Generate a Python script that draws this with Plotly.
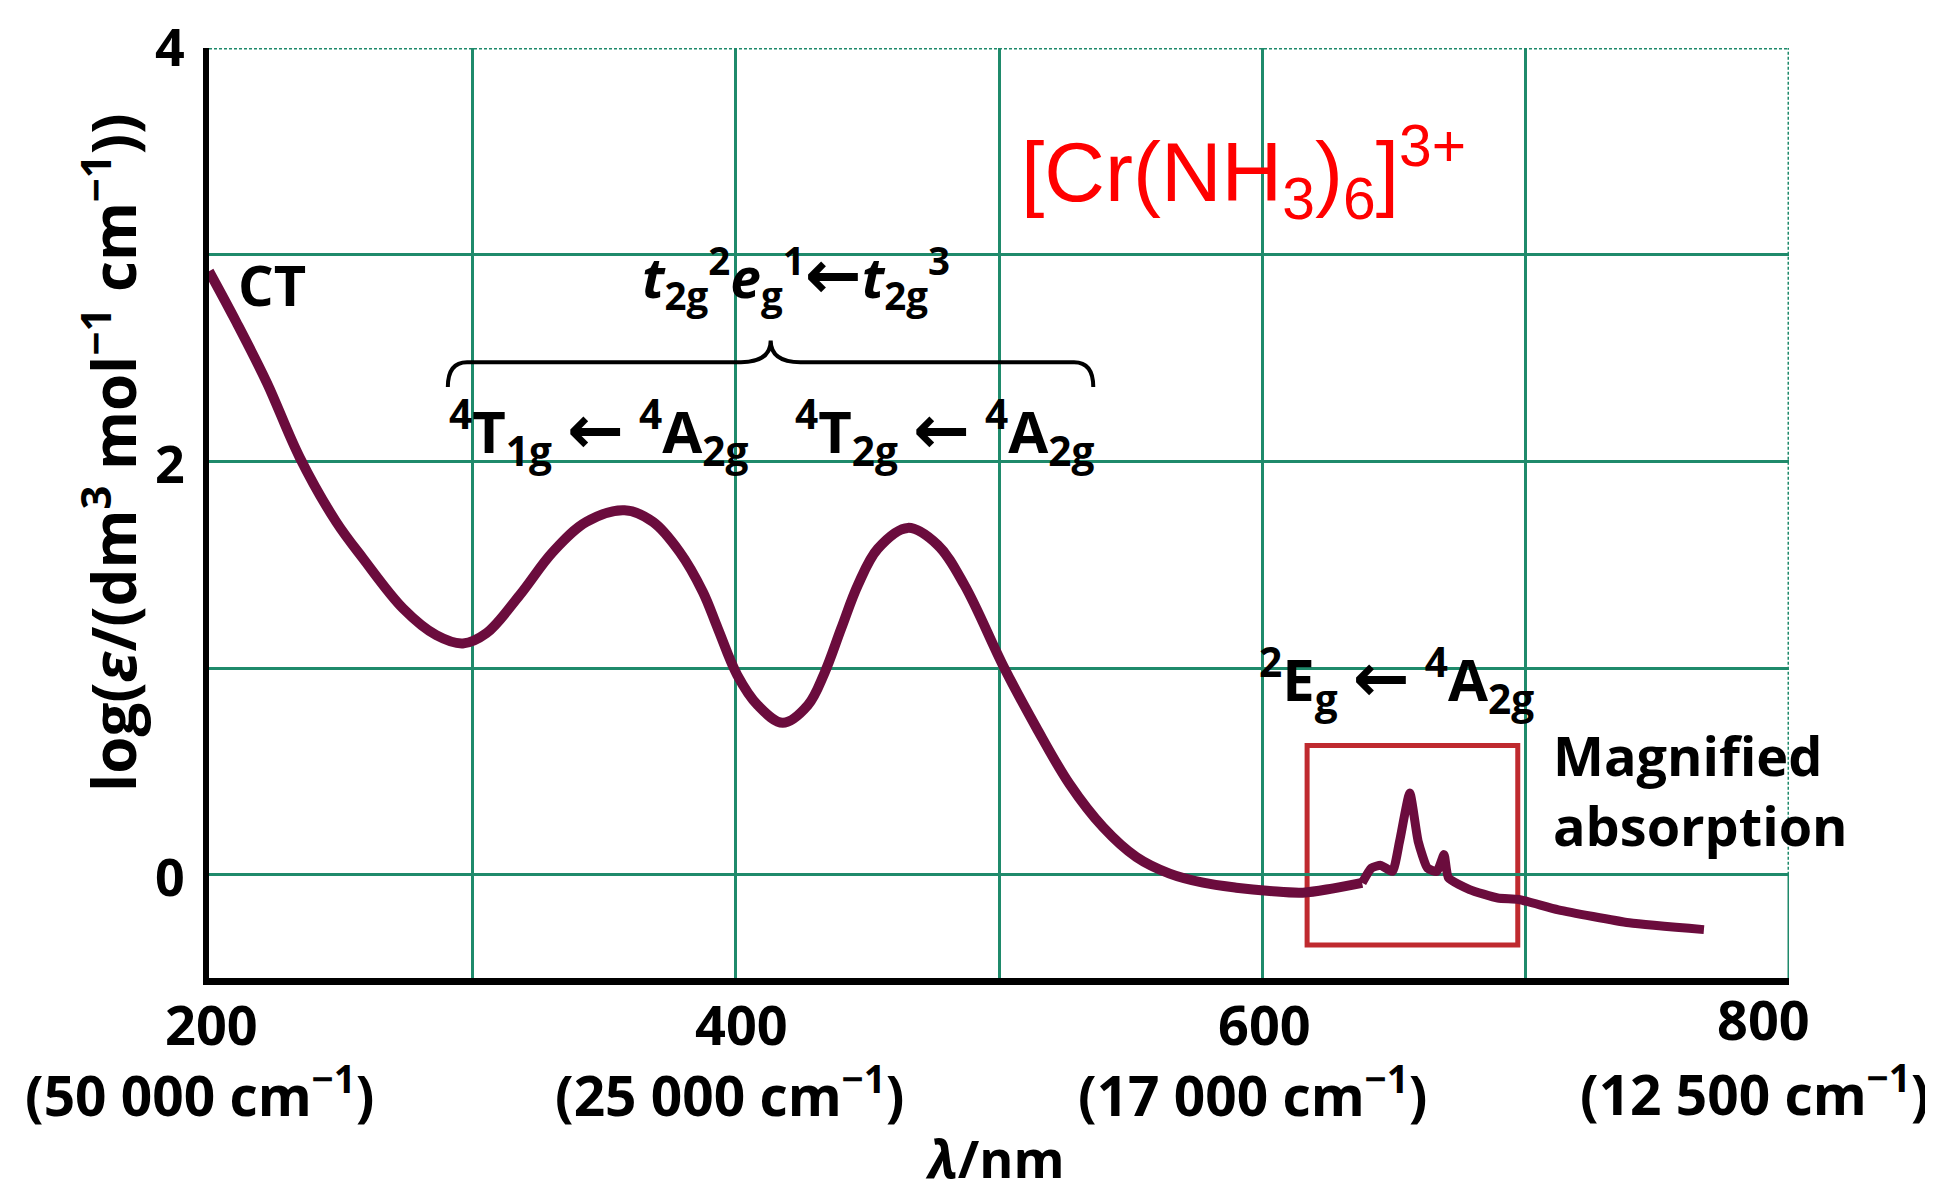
import plotly.graph_objects as go

# ---------------- data ----------------
# main absorption envelope: wavelength / nm and log(epsilon)
wl_main = [200, 210.4, 222, 234.4, 248.3, 258.5, 273.7, 286.3, 296.4, 305.3,
           318, 330.6, 343.3, 357.8, 368.6, 378.7, 387.5, 393.2, 400.6, 408.4,
           417.9, 427.4, 433.7, 440.1, 446.4, 454, 465.4, 476.8, 486.9, 502,
           514.2, 526.8, 539.5, 552.2, 564.8, 577.5, 590.1, 602.8, 615.4,
           627, 637.9]
loge_main = [2.92, 2.673, 2.38, 2.02, 1.707, 1.53, 1.288, 1.159, 1.119,
             1.168, 1.353, 1.562, 1.707, 1.763, 1.707, 1.562, 1.369, 1.192,
             0.966, 0.82, 0.735, 0.82, 0.975, 1.192, 1.401, 1.578, 1.678,
             1.594, 1.401, 1.0, 0.711, 0.438, 0.230, 0.085, 0.005, -0.039,
             -0.063, -0.079, -0.087, -0.066, -0.04]
# magnified spin-forbidden region and tail
wl_mag = [637.9, 641.4, 645, 649.4, 652.1, 656, 659.2, 662.7, 666.3, 669,
          670.7, 678.7, 689.4, 697.4, 712.4, 739.3, 767.7]
loge_mag = [-0.04, 0.032, 0.045, 0.016, 0.16, 0.395, 0.16, 0.032, 0.016,
            0.097, -0.016, -0.072, -0.113, -0.12, -0.17, -0.233, -0.266]

# axis tick labels
tick_nm = [200, 400, 600, 800]
tick_wavenumber = ["50 000", "25 000", "17 000", "12 500"]
ytick_vals = [0, 2, 4]
xgrid_vals = [300, 400, 500, 600, 700]
ygrid_vals = [0, 1, 2, 3]

# magnified-absorption box (nm, log eps)
box_nm = [617, 697]
box_loge = [-0.34, 0.625]

# ---------------- styles ----------------
CURVE = "#6b0c3d"
GRID = "#1f8a6b"
BOXRED = "#bf2a2f"
FONT = "Open Sans"
ARROW = '<span style="font-family:\'DejaVu Sans\';font-size:68px">\u2190</span>'

fig = go.Figure()
fig.add_trace(go.Scatter(x=wl_main, y=loge_main, mode="lines",
                         line=dict(color=CURVE, width=10, shape="spline", smoothing=1.0),
                         hoverinfo="skip", showlegend=False))
fig.add_trace(go.Scatter(x=wl_mag, y=loge_mag, mode="lines",
                         line=dict(color=CURVE, width=9, shape="spline", smoothing=0.5),
                         hoverinfo="skip", showlegend=False))

shapes = []
# dotted top border and right border
shapes.append(dict(type="line", xref="x", yref="y", x0=200, x1=800, y0=4, y1=4,
                   line=dict(color=GRID, width=3, dash="3px,2px"), layer="below"))
shapes.append(dict(type="line", xref="x", yref="y", x0=800, x1=800, y0=0, y1=4,
                   line=dict(color=GRID, width=3, dash="3px,2px"), layer="below"))
shapes.append(dict(type="line", xref="x", yref="y", x0=800, x1=800, y0=-0.5, y1=0,
                   line=dict(color=GRID, width=3), layer="below"))
# red box
shapes.append(dict(type="rect", xref="x", yref="y", x0=box_nm[0], x1=box_nm[1],
                   y0=box_loge[0], y1=box_loge[1],
                   line=dict(color=BOXRED, width=5), fillcolor="rgba(0,0,0,0)", layer="below"))
# curly brace
brace = ("M 290.7,2.36 Q 290.7,2.48 298,2.48 L 402,2.48 "
         "Q 413.3,2.48 413.3,2.585 Q 413.3,2.48 424.6,2.48 "
         "L 528.5,2.48 Q 535.8,2.48 535.8,2.36")
shapes.append(dict(type="path", xref="x", yref="y", path=brace,
                   line=dict(color="black", width=4)))

ann = []
bold = dict(family=FONT, color="black", weight=700)

# x tick labels (two lines)
nm_xshift = [2, 6, 2, -26]
nm_yshift = [-46, -46, -46, -41]
wn_xshift = [-10, -6, -10, -35]
wn_yshift = [-114, -114, -114, -113]
for i, v in enumerate(tick_nm):
    ann.append(dict(x=v, y=0, xref="x", yref="paper", text=str(v), showarrow=False,
                    xanchor="center", yanchor="middle", xshift=nm_xshift[i],
                    yshift=nm_yshift[i], font=dict(bold, size=54)))
    ann.append(dict(x=v, y=0, xref="x", yref="paper",
                    text="(" + tick_wavenumber[i] + " cm<sup>\u22121</sup>)",
                    showarrow=False, xanchor="center", yanchor="middle",
                    xshift=wn_xshift[i], yshift=wn_yshift[i], font=dict(bold, size=55)))
# y tick labels
for v in ytick_vals:
    ann.append(dict(x=0, y=v, xref="paper", yref="y", text=str(v), showarrow=False,
                    xanchor="center", yanchor="middle", xshift=-39,
                    yshift=3 if v == 4 else -1, font=dict(bold, size=52)))
# axis titles
ann.append(dict(x=0.497, y=0, xref="paper", yref="paper", text="<i>\u03bb</i>/nm",
                showarrow=False, xanchor="center", yanchor="bottom", yshift=-217,
                font=dict(bold, size=52)))
ann.append(dict(x=0, y=2.04, xref="paper", yref="y",
                text="log(<i>\u03b5</i>/(dm<sup>3</sup> mol<sup>\u22121</sup> cm<sup>\u22121</sup>))",
                showarrow=False, textangle=-90, xanchor="center", yanchor="middle",
                xshift=-99, font=dict(bold, size=60)))
# chart labels
ann.append(dict(x=224, y=2.86, xref="x", yref="y", text="CT", showarrow=False,
                xanchor="center", yanchor="middle", font=dict(bold, size=56)))
ann.append(dict(x=422.8, y=2.89, xref="x", yref="y",
                text="<i>t</i><sub>2g</sub><sup>2</sup><i>e</i><sub>g</sub><sup>1</sup>" + ARROW
                     + "<i>t</i><sub>2g</sub><sup>3</sup>",
                showarrow=False, xanchor="center", yanchor="middle", font=dict(bold, size=55)))
ann.append(dict(x=348.2, y=2.14, xref="x", yref="y",
                text="<sup>4</sup>T<sub>1g</sub> " + ARROW + " <sup>4</sup>A<sub>2g</sub>",
                showarrow=False, xanchor="center", yanchor="middle", font=dict(bold, size=58)))
ann.append(dict(x=479.5, y=2.14, xref="x", yref="y",
                text="<sup>4</sup>T<sub>2g</sub> " + ARROW + " <sup>4</sup>A<sub>2g</sub>",
                showarrow=False, xanchor="center", yanchor="middle", font=dict(bold, size=58)))
ann.append(dict(x=651, y=0.94, xref="x", yref="y",
                text="<sup>2</sup>E<sub>g</sub> " + ARROW + " <sup>4</sup>A<sub>2g</sub>",
                showarrow=False, xanchor="center", yanchor="middle", font=dict(bold, size=58)))
ann.append(dict(x=709.5, y=0.41, xref="x", yref="y", text="Magnified<br>absorption",
                showarrow=False, xanchor="left", yanchor="middle", align="left",
                font=dict(bold, size=54)))
ann.append(dict(x=593, y=3.40, xref="x", yref="y",
                text="[Cr(NH<sub>3</sub>)<sub>6</sub>]<sup>3+</sup>",
                showarrow=False, xanchor="center", yanchor="middle",
                font=dict(family="Liberation Sans", size=84, color="#ff0000")))

fig.update_layout(
    width=1933, height=1196,
    margin=dict(l=201, r=152, t=40, b=226, pad=0),
    paper_bgcolor="white", plot_bgcolor="white",
    shapes=shapes, annotations=ann, showlegend=False,
    xaxis=dict(range=[200, 800], tickvals=xgrid_vals, showticklabels=False,
               ticks="", showgrid=True, gridcolor=GRID, gridwidth=3,
               zeroline=False, showline=True, linecolor="black", linewidth=7,
               fixedrange=True),
    yaxis=dict(range=[-0.5, 4], tickvals=ygrid_vals, showticklabels=False,
               ticks="", showgrid=True, gridcolor=GRID, gridwidth=3,
               zeroline=False, showline=True, linecolor="black", linewidth=6,
               fixedrange=True),
)

fig.write_html("out.html")
